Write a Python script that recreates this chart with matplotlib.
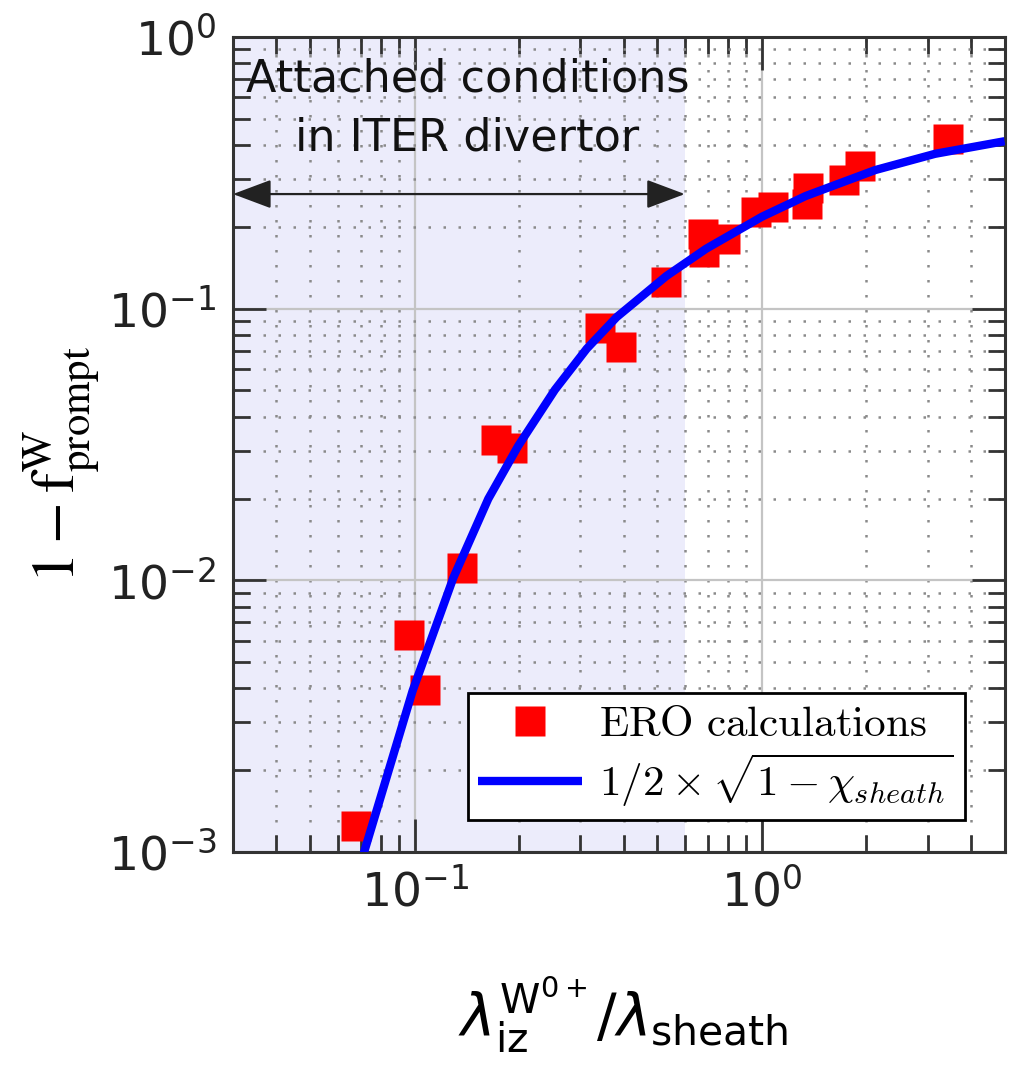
import matplotlib
matplotlib.use('Agg')
import matplotlib.pyplot as plt
from matplotlib.font_manager import FontProperties
from matplotlib.ticker import NullFormatter, LogLocator

# ERO calculations (red squares)
ero_x = [0.0678, 0.0961, 0.107, 0.137, 0.172, 0.191, 0.341, 0.394, 0.531,
         0.678, 0.682, 0.783, 0.961, 1.075, 1.346, 1.355, 1.729, 1.922, 3.43]
ero_y = [0.00125, 0.00627, 0.00393, 0.0111, 0.0329, 0.0307, 0.0851, 0.0724, 0.125,
         0.1875, 0.161, 0.181, 0.226, 0.236, 0.242, 0.277, 0.297, 0.334, 0.42]

# fitted curve 1/2 x sqrt(1 - chi_sheath)
fit_x = [0.0714, 0.0987, 0.1293, 0.163, 0.1986, 0.2535, 0.3131, 0.3816,
         0.5308, 0.691, 1.0, 1.337, 2.121, 3.152, 5.0]
fit_y = [0.00099, 0.00392, 0.01022, 0.01995, 0.03118, 0.05025, 0.07119, 0.0930,
         0.1318, 0.1661, 0.2178, 0.2597, 0.3236, 0.3713, 0.4132]

x_range = [0.03, 5.0]
y_range = [1e-3, 1.0]
attached_range = [0.03, 0.6]
arrow_y = 0.264
annot_lines = ["Attached conditions", "in ITER divertor"]
legend_labels = [r"$\mathrm{ERO\ calculations}$",
                 r"$1/2\times\sqrt{1-\chi_{sheath}}$"]

fig = plt.figure(figsize=(10.22, 10.86), dpi=100)
ax = fig.add_axes([0.228, 0.2155, 0.755, 0.7505])
ax.set_xscale('log')
ax.set_yscale('log')
ax.set_xlim(*x_range)
ax.set_ylim(*y_range)
ax.set_axisbelow(True)

ax.axvspan(attached_range[0], attached_range[1], color='#ececfb', zorder=0, lw=0)

ax.xaxis.set_minor_locator(LogLocator(base=10, subs=range(2, 10)))
ax.yaxis.set_minor_locator(LogLocator(base=10, subs=range(2, 10)))
ax.xaxis.set_minor_formatter(NullFormatter())
ax.yaxis.set_minor_formatter(NullFormatter())

ax.grid(which='major', color='#c4c4c4', lw=1.6, ls='-')
ax.grid(which='minor', color='#8a8a8a', lw=1.8, ls=(0, (1, 5)))

ax.plot(ero_x, ero_y, 's', color='red', ms=22, mec='none', zorder=2,
        label=legend_labels[0])
ax.plot(fit_x, fit_y, '-', color='blue', lw=6, zorder=3,
        label=legend_labels[1], solid_capstyle='butt', solid_joinstyle='round')

ax.annotate('', xy=(attached_range[0], arrow_y), xytext=(attached_range[1], arrow_y),
            arrowprops=dict(arrowstyle='<|-|>,head_length=1.2,head_width=0.45',
                            mutation_scale=20, color='#222222', lw=1.6,
                            shrinkA=0, shrinkB=0), zorder=4)

ax.text(0.304, 0.9325, annot_lines[0], transform=ax.transAxes, ha='center',
        va='baseline', fontsize=32, color='#111111')
ax.text(0.304, 0.861, annot_lines[1], transform=ax.transAxes, ha='center',
        va='baseline', fontsize=32, color='#111111')

for s in ax.spines.values():
    s.set_linewidth(2.2)
    s.set_color('#333333')

ax.tick_params(which='both', direction='in', top=True, right=True,
               width=2, color='#333333')
ax.tick_params(which='major', length=24, labelsize=34, pad=12, labelcolor='#222222')
ax.tick_params(which='minor', length=12)

ax.set_ylabel(r'$1-\mathrm{f}^{\mathrm{W}}_{\mathrm{prompt}}$', fontsize=44,
              math_fontfamily='stix')
ax.yaxis.set_label_coords(-0.17, 0.475)
ax.set_xlabel(r'$\lambda_{\mathrm{iz}}^{\mathrm{W}^{0+}}/\lambda_{\mathrm{sheath}}$',
              fontsize=42, math_fontfamily='dejavusans')
ax.xaxis.set_label_coords(0.506, -0.151)

leg = ax.legend(loc='lower right', bbox_to_anchor=(0.948, 0.039), borderaxespad=0,
                prop=FontProperties(size=31, math_fontfamily='cm'),
                fancybox=False, framealpha=1, edgecolor='black',
                handlelength=2.4, handletextpad=0.4, borderpad=0.25,
                labelspacing=0.15, numpoints=1)
leg.get_frame().set_linewidth(2)

fig.savefig('out.png', dpi=100)
